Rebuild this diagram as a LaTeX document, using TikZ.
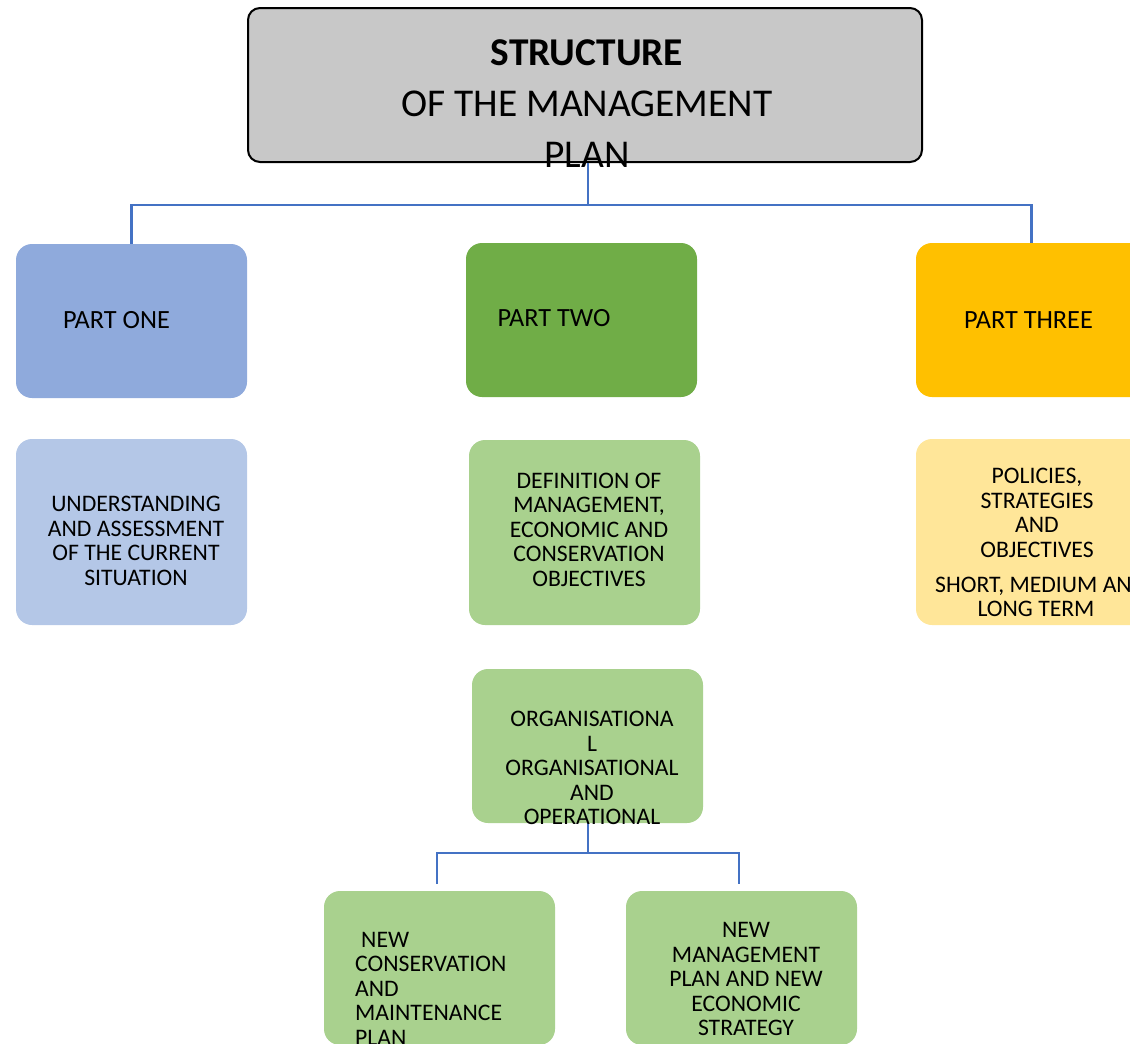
\documentclass[tikz,border=0pt]{standalone}
\usepackage{fontspec}
\setmainfont{Carlito}
\definecolor{titlegray}{HTML}{C8C8C8}
\definecolor{pone}{HTML}{8FAADC}
\definecolor{ptwo}{HTML}{70AD47}
\definecolor{pthree}{HTML}{FFC000}
\definecolor{lone}{HTML}{B4C7E7}
\definecolor{ltwo}{HTML}{A9D18E}
\definecolor{lthree}{HTML}{FFE699}
\definecolor{linkblue}{HTML}{4472C4}
\begin{document}
\begin{tikzpicture}[x=1pt,y=-1pt,
  box/.style={rectangle, rounded corners=16pt, minimum width=231pt, minimum height=154pt, inner sep=0pt, draw=none},
  bodytext/.style={inner sep=0pt, align=center, font=\fontsize{23.7}{24.5}\selectfont, text=black},
  parttext/.style={inner sep=0pt, align=center, font=\fontsize{26.3}{28}\selectfont, text=black},
  titletext/.style={inner sep=0pt, align=center, font=\fontsize{39.4}{51}\selectfont, text=black},
  link/.style={draw=linkblue, line width=2.2pt}]
\useasboundingbox (0,0) rectangle (1130,1044);
\clip (0,0) rectangle (1130,1044);
% title
\node[rectangle, rounded corners=12pt, draw=black, line width=2pt, fill=titlegray, minimum width=674pt, minimum height=154pt, inner sep=0pt] (title) at (585,85) {};
% parts
\node[box, fill=pone] (p1) at (131.5,321) {};
\node[box, fill=ptwo] (p2) at (581.5,320) {};
\node[box, fill=pthree] (p3) at (1031.5,320) {};
% second row
\node[box, fill=lone, minimum height=186pt] (d1) at (131.5,532) {};
\node[box, fill=ltwo, minimum height=185pt] (d2) at (584.5,532.5) {};
\node[box, fill=lthree, minimum height=186pt] (d3) at (1031.5,532) {};
% organisational
\node[box, fill=ltwo] (org) at (587.5,746) {};
% bottom
\node[box, fill=ltwo] (n1) at (439.5,968) {};
\node[box, fill=ltwo] (n2) at (741.5,968) {};
% connectors
\coordinate (j1) at (588,205);
\draw[link] (title.south -| j1) -- (j1);
\draw[link] (p1.north) |- (j1) -| (p3.north);
\coordinate (j2) at (588,853);
\coordinate (e1) at (437,884);
\coordinate (e2) at (739,884);
\draw[link] (org.south -| j2) -- (j2);
\draw[link] (e1) |- (j2) -| (e2);
% texts
\node[titletext] (ttl) at (587,104) {\textbf{STRUCTURE}\\OF THE MANAGEMENT\\PLAN};
\node[parttext] (t1) at (116.5,320) {PART ONE};
\node[parttext] (t2) at (554,318) {PART TWO};
\node[parttext] (t3) at (1028.5,320) {PART THREE};
\node[bodytext] (u1) at (136,541) {UNDERSTANDING\\AND ASSESSMENT\\OF THE CURRENT\\SITUATION};
\node[bodytext] (u2) at (589,529.5) {DEFINITION OF\\MANAGEMENT,\\ECONOMIC AND\\CONSERVATION\\OBJECTIVES};
\node[bodytext] (u3) at (1037,513) {POLICIES,\\STRATEGIES\\AND\\OBJECTIVES};
\node[bodytext, anchor=west] (u3b) at (935,586) {SHORT, MEDIUM AND};
\node[bodytext] (u3c) at (1036,609) {LONG TERM};
\node[bodytext] (ot) at (592,768) {ORGANISATIONA\\L\\ORGANISATIONAL\\AND\\OPERATIONAL};
\node[bodytext, align=left, anchor=west] (nt1) at (355,988.5) {\hspace*{6pt}NEW\\CONSERVATION\\AND\\MAINTENANCE\\PLAN};
\node[bodytext] (nt2) at (746,979) {NEW\\MANAGEMENT\\PLAN AND NEW\\ECONOMIC\\STRATEGY};
\end{tikzpicture}
\end{document}
